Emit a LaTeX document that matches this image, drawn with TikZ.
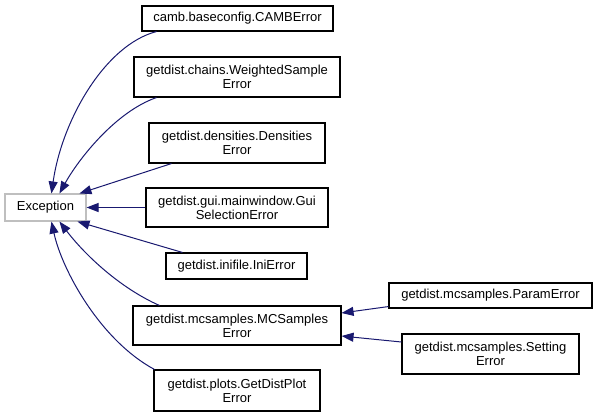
\documentclass[tikz,border=0pt]{standalone}
\usepackage{fontspec}
\setmainfont{Liberation Sans}
\usetikzlibrary{arrows.meta}
\definecolor{edgeblue}{HTML}{191970}
\definecolor{greyborder}{HTML}{BFBFBF}
\begin{document}
\begin{tikzpicture}[x=1pt,y=-1pt,
  cls/.style={draw=black, line width=1.1pt, fill=white, inner sep=0pt, align=center,
    font=\fontsize{13}{14}\selectfont},
  edge/.style={draw=edgeblue, line width=1pt, -{Triangle[length=12pt,width=9pt]}}]
\useasboundingbox[fill=white] (0,0) rectangle (597,416);
\node[cls, draw=greyborder, minimum width=81pt, minimum height=27pt] (exc) at (45.5,207.5) {Exception};
\node[cls, minimum width=191pt, minimum height=25pt] (camb) at (237.5,18.5) {camb.baseconfig.CAMBError};
\node[cls, minimum width=206pt, minimum height=40pt] (ws) at (237,77) {getdist.chains.WeightedSample\\Error};
\node[cls, minimum width=176pt, minimum height=40pt] (dens) at (237,143) {getdist.densities.Densities\\Error};
\node[cls, minimum width=182pt, minimum height=39pt] (gui) at (237,207.5) {getdist.gui.mainwindow.Gui\\SelectionError};
\node[cls, minimum width=141pt, minimum height=26pt] (ini) at (236.5,266) {getdist.inifile.IniError};
\node[cls, minimum width=208pt, minimum height=39pt] (mc) at (237,325.5) {getdist.mcsamples.MCSamples\\Error};
\node[cls, minimum width=166pt, minimum height=41pt] (gd) at (237,390.5) {getdist.plots.GetDistPlot\\Error};
\node[cls, minimum width=203pt, minimum height=25pt] (param) at (490.5,295.5) {getdist.mcsamples.ParamError};
\node[cls, minimum width=177pt, minimum height=40pt] (set) at (490.5,354) {getdist.mcsamples.Setting\\Error};

\draw[edge] ([xshift=15pt]camb.south west) .. controls (105,45) and (62,120) .. ([xshift=47pt]exc.north west);
\draw[edge] ([xshift=23pt]ws.south west) .. controls (115,112) and (78,160) .. ([xshift=55pt]exc.north west);
\draw[edge] ([xshift=23pt]dens.south west) -- ([xshift=75pt]exc.north west);
\draw[edge] (gui.west) -- (exc.east);
\draw[edge] ([xshift=17pt]ini.north west) -- ([xshift=73pt]exc.south west);
\draw[edge] ([xshift=27pt]mc.north west) .. controls (120,288) and (85,255) .. ([xshift=55pt]exc.south west);
\draw[edge] ([xshift=1pt]gd.north west) .. controls (100,340) and (62,270) .. ([xshift=47pt]exc.south west);
\draw[edge] ([yshift=2pt]param.south west) -- ([yshift=12.5pt]mc.east);
\draw[edge] ([yshift=12pt]set.west) -- ([yshift=-10.5pt]mc.east);
\end{tikzpicture}
\end{document}
